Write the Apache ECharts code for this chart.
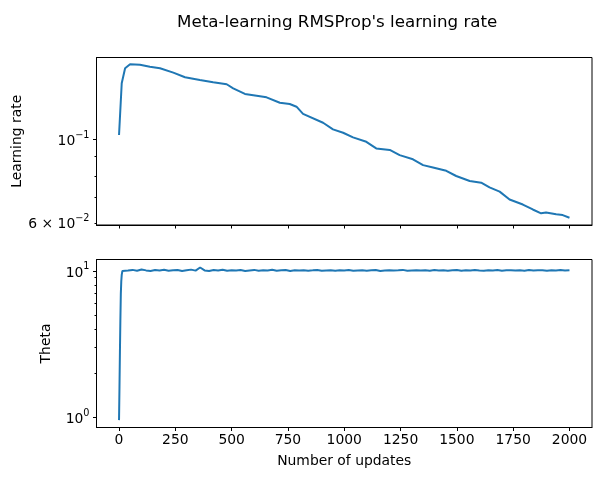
<!DOCTYPE html>
<html>
<head>
<meta charset="utf-8">
<script src="https://cdn.jsdelivr.net/npm/echarts@6/dist/echarts.min.js"></script>
<style>
  html, body { margin: 0; padding: 0; background: #fff; }
  #main { width: 602px; height: 480px; }
</style>
</head>
<body>
<div id="main"></div>
<script>
// learning rate (top panel)
var lrSteps = [0, 12, 27, 49, 93, 137, 182, 241, 293, 359, 418, 478, 507, 559, 611, 655, 714, 758,
    788, 817, 906, 950, 995, 1039, 1098, 1142, 1202, 1246, 1305, 1350, 1394, 1453, 1497, 1557,
    1608, 1645, 1690, 1734, 1793, 1837, 1874, 1896, 1941, 1970, 2000];
var lrValues = [0.1027, 0.1409, 0.1545, 0.1583, 0.1579, 0.1560, 0.1545, 0.1504, 0.1462, 0.1438,
    0.1418, 0.1401, 0.1366, 0.1320, 0.1306, 0.1293, 0.1251, 0.1241, 0.1221, 0.1168, 0.1107,
    0.1063, 0.1041, 0.1012, 0.0985, 0.0946, 0.0937, 0.0908, 0.0885, 0.0854, 0.0842, 0.0825,
    0.0799, 0.0775, 0.0767, 0.0745, 0.0726, 0.0692, 0.0671, 0.0651, 0.0636, 0.0639, 0.0632,
    0.0629, 0.0619];

// theta (bottom panel): fast ramp, then noisy plateau sampled every 20 updates
var thetaRampSteps = [0, 2, 4, 6, 8, 10, 12, 15];
var thetaRampValues = [0.96, 1.6, 2.8, 4.6, 7.0, 8.5, 9.4, 10.0];
var thetaPlateau = [
    10.1, 10.05, 10.16, 10.02, 10.22, 10.08, 9.99, 10.13, 10.06, 10.17,
    10.03, 10.11, 10.15, 9.98, 10.09, 10.2, 10.04, 10.55, 10.07, 9.97,
    10.14, 10.05, 10.18, 10.01, 10.1, 10.06, 10.13, 9.99, 10.08, 10.16,
    10.03, 10.11, 10.07, 10.19, 10.02, 10.09, 10.14, 10.0, 10.1, 10.05,
    10.12, 10.04, 10.09, 10.15, 10.01, 10.08, 10.12, 10.03, 10.1, 10.06,
    10.13, 10.02, 10.08, 10.11, 10.04, 10.09, 10.14, 10.0, 10.07, 10.12,
    10.05, 10.1, 10.16, 10.03, 10.08, 10.12, 10.06, 10.1, 10.02, 10.13,
    10.07, 10.11, 10.04, 10.09, 10.14, 10.03, 10.1, 10.06, 10.15, 10.08,
    10.02, 10.11, 10.07, 10.13, 10.04, 10.09, 10.12, 10.05, 10.1, 10.03,
    10.14, 10.06, 10.09, 10.12, 10.02, 10.1, 10.07, 10.13, 10.05, 10.09
];
var plateauStart = 20, plateauStep = 20;

var xTicks = [0, 250, 500, 750, 1000, 1250, 1500, 1750, 2000];
var lrMajor = [0.1], lrMinor = [0.06, 0.07, 0.08, 0.09], lrLabels = [0.06, 0.1];
var thMajor = [1, 10], thMinor = [2, 3, 4, 5, 6, 7, 8, 9], thLabels = [1, 10];

var FONT = 'DejaVu Sans';
var BLUE = '#1f77b4';

var lrData = [];
for (var i = 0; i < lrSteps.length; i++) lrData.push([lrSteps[i], lrValues[i]]);
var thetaData = [];
for (var i = 0; i < thetaRampSteps.length; i++) thetaData.push([thetaRampSteps[i], thetaRampValues[i]]);
for (var i = 0; i < thetaPlateau.length; i++) thetaData.push([plateauStart + i * plateauStep, thetaPlateau[i]]);

var supRich = {
    b: { fontFamily: FONT, fontSize: 13.9, color: '#000', lineHeight: 18, verticalAlign: 'bottom' },
    s: { fontFamily: FONT, fontSize: 9.7, color: '#000', lineHeight: 11, verticalAlign: 'top' }
};

function logLabel(v) {
    if (Math.abs(v - 0.1) < 1e-6) return '{b|10}{s|\u22121}';
    if (Math.abs(v - 0.06) < 1e-6) return '{b|6 \u00d7 10}{s|\u22122}';
    if (Math.abs(v - 1) < 1e-6) return '{b|10}{s|0}';
    if (Math.abs(v - 10) < 1e-6) return '{b|10}{s|1}';
    return '';
}

function xAxisFor(gridIndex, showLabels) {
    return {
        type: 'value', gridIndex: gridIndex, min: -100, max: 2100,
        axisLine: { show: true, onZero: false, lineStyle: { color: '#000', width: 1 } },
        axisTick: { show: true, length: 3.5, customValues: xTicks, lineStyle: { color: '#000', width: 1 } },
        axisLabel: { show: showLabels, customValues: xTicks, margin: 6, fontFamily: FONT, fontSize: 13.9, color: '#000',
            formatter: function (v) { return String(v); } },
        splitLine: { show: false },
        name: showLabels ? 'Number of updates' : '',
        nameLocation: 'middle', nameGap: 27, nameMoveOverlap: false,
        nameTextStyle: { fontFamily: FONT, fontSize: 13.9, color: '#000' }
    };
}

function yAxisFor(gridIndex, min, max, major, labels, name, nameGap) {
    return {
        type: 'log', logBase: 10, gridIndex: gridIndex, min: min, max: max, position: 'left',
        axisLine: { show: true, onZero: false, lineStyle: { color: '#000', width: 1 } },
        axisTick: { show: true, length: 3.5, customValues: major, lineStyle: { color: '#000', width: 1 } },
        axisLabel: { show: true, customValues: labels, margin: 7, formatter: logLabel, rich: supRich },
        splitLine: { show: false },
        minorTick: { show: false },
        name: name, nameLocation: 'middle', nameGap: nameGap, nameMoveOverlap: false,
        nameTextStyle: { fontFamily: FONT, fontSize: 13.9, color: '#000' }
    };
}

function minorYAxis(gridIndex, min, max, minor) {
    return {
        type: 'log', logBase: 10, gridIndex: gridIndex, min: min, max: max, position: 'left',
        axisLine: { show: false, onZero: false },
        axisTick: { show: true, length: 2, customValues: minor, lineStyle: { color: '#000', width: 1 } },
        axisLabel: { show: false },
        splitLine: { show: false }
    };
}

var chart = echarts.init(document.getElementById('main'), null, { renderer: 'canvas' });
chart.setOption({
    animation: false,
    backgroundColor: '#fff',
    title: {
        text: "Meta-learning RMSProp's learning rate",
        left: 172, top: 9,
        textStyle: { fontFamily: FONT, fontSize: 16.7, fontWeight: 'normal', color: '#000' }
    },
    grid: [
        { left: 96.5, top: 57.5, width: 495.5, height: 167.5, show: true, borderColor: '#000', borderWidth: 1, outerBoundsMode: 'none' },
        { left: 96.5, top: 259.5, width: 495.5, height: 168, show: true, borderColor: '#000', borderWidth: 1, outerBoundsMode: 'none' }
    ],
    xAxis: [xAxisFor(0, false), xAxisFor(1, true)],
    yAxis: [
        yAxisFor(0, 0.0592, 0.165, lrMajor, lrLabels, 'Learning rate', 72),
        minorYAxis(0, 0.0592, 0.165, lrMinor),
        yAxisFor(1, 0.855, 11.96, thMajor, thLabels, 'Theta', 43),
        minorYAxis(1, 0.855, 11.96, thMinor)
    ],
    series: [
        { type: 'line', xAxisIndex: 0, yAxisIndex: 0, data: lrData, showSymbol: false,
          lineStyle: { color: BLUE, width: 2 }, itemStyle: { color: BLUE } },
        { type: 'line', xAxisIndex: 1, yAxisIndex: 2, data: thetaData, showSymbol: false,
          lineStyle: { color: BLUE, width: 2 }, itemStyle: { color: BLUE } }
    ]
});
</script>
</body>
</html>
